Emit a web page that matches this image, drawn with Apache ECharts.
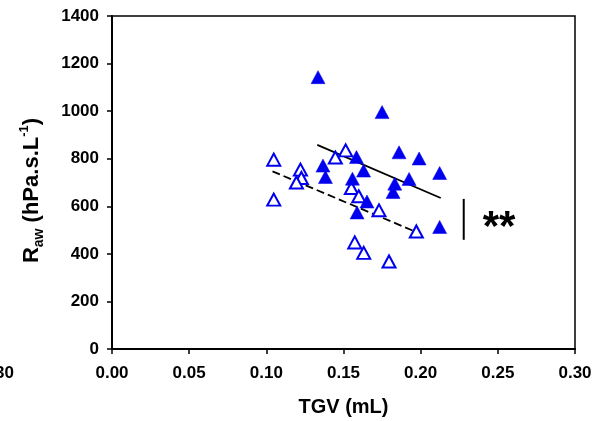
<!DOCTYPE html>
<html>
<head>
<meta charset="utf-8">
<script src="https://cdn.jsdelivr.net/npm/echarts@6/dist/echarts.min.js"></script>
<style>
html,body{margin:0;padding:0;background:#fff;}
#chart{width:595px;height:421px;}
</style>
</head>
<body>
<div id="chart"></div>
<script>
// ---- data ----
const filledX = [0.1335, 0.175, 0.186, 0.199, 0.2123, 0.1584, 0.163, 0.1367, 0.1383, 0.1558, 0.1832, 0.1925, 0.1821, 0.1652, 0.1588, 0.2123];
const filledY = [1143, 996, 827, 801, 740, 807, 750, 771, 723, 716, 695, 715, 660, 620, 574, 513];
const openX = [0.1048, 0.1048, 0.1221, 0.1227, 0.1195, 0.1447, 0.1514, 0.1551, 0.1599, 0.173, 0.1972, 0.1573, 0.1631, 0.1795];
const openY = [796, 628, 754, 719, 700, 805, 835, 677, 642, 583, 494, 448, 404, 368];
const solidFitX = [0.133, 0.213];
const solidFitY = [858, 635];
const dashedFitX = [0.104, 0.197];
const dashedFitY = [747, 492];
const sigBarX = [0.2279, 0.2279];
const sigBarY = [631, 459];
const sigText = '**';
const xTicks = {min: 0, max: 0.30, interval: 0.05};
const yTicks = {min: 0, max: 1400, interval: 200};
const xTitle = 'TGV (mL)';
const neighbourLabel = '0.30';

const zip = (xs, ys) => xs.map((x, i) => [x, ys[i]]);
const FONT = '"Liberation Sans", Arial, sans-serif';
const BLUE = '#0000ee';

const chart = echarts.init(document.getElementById('chart'), null, {renderer: 'canvas'});
const option = {
  animation: false,
  backgroundColor: '#fff',
  grid: {left: 112, right: 20, top: 16, bottom: 72, outerBoundsMode: 'none', containLabel: false,
    show: true, borderColor: '#000', borderWidth: 1.5, backgroundColor: 'transparent'},
  xAxis: {
    type: 'value', min: xTicks.min, max: xTicks.max, interval: xTicks.interval,
    name: xTitle, nameLocation: 'middle', nameGap: 48,
    nameTextStyle: {fontFamily: FONT, fontWeight: 'bold', fontSize: 20, color: '#000'},
    axisLine: {show: true, onZero: false, lineStyle: {color: '#000', width: 2}},
    axisTick: {show: true, length: 5, inside: false, lineStyle: {color: '#000', width: 1.5}},
    axisLabel: {margin: 16, fontFamily: FONT, fontWeight: 'bold', fontSize: 17, color: '#000',
      formatter: v => v.toFixed(2)},
    splitLine: {show: false}
  },
  yAxis: {
    type: 'value', min: yTicks.min, max: yTicks.max, interval: yTicks.interval,
    name: '{r|R}{sub|aw}{r| (hPa.s.L}{sup|-1}{r|)}', nameLocation: 'middle', nameGap: 66, nameRotate: 90,
    nameTextStyle: {
      fontFamily: FONT, fontWeight: 'bold', fontSize: 22, color: '#000', padding: [0, 16, 0, 0],
      rich: {
        r: {fontFamily: FONT, fontWeight: 'bold', fontSize: 22, color: '#000', lineHeight: 28, verticalAlign: 'middle'},
        sub: {fontFamily: FONT, fontWeight: 'bold', fontSize: 14, color: '#000', lineHeight: 14, verticalAlign: 'bottom'},
        sup: {fontFamily: FONT, fontWeight: 'bold', fontSize: 13, color: '#000', lineHeight: 13, verticalAlign: 'top'}
      }
    },
    axisLine: {show: true, onZero: false, lineStyle: {color: '#000', width: 2}},
    axisTick: {show: true, length: 5, inside: false, lineStyle: {color: '#000', width: 1.5}},
    axisLabel: {margin: 13, fontFamily: FONT, fontWeight: 'bold', fontSize: 17, color: '#000',
      formatter: v => String(v)},
    splitLine: {show: false}
  },
  series: [
    {
      type: 'line', data: zip(solidFitX, solidFitY), symbol: 'none', silent: true,
      lineStyle: {color: '#000', width: 1.8, type: 'solid'}, z: 2
    },
    {
      type: 'line', data: zip(dashedFitX, dashedFitY), symbol: 'none', silent: true,
      lineStyle: {color: '#000', width: 1.8, type: [8, 4]}, z: 2
    },
    {
      type: 'scatter', data: zip(openX, openY), symbol: 'triangle', symbolSize: [13, 12],
      itemStyle: {color: '#fff', borderColor: BLUE, borderWidth: 2, opacity: 1}, z: 3
    },
    {
      type: 'scatter', data: zip(filledX, filledY), symbol: 'triangle', symbolSize: [14, 13],
      itemStyle: {color: BLUE, borderColor: BLUE, borderWidth: 0.5, opacity: 1}, z: 4
    },
    {
      type: 'line', data: zip(sigBarX, sigBarY), symbol: 'none', silent: true,
      lineStyle: {color: '#000', width: 2}, z: 2
    }
  ]
};
chart.setOption(option);

// annotation text positioned through the chart's own scales
const mid = chart.convertToPixel({gridIndex: 0}, [sigBarX[0], (sigBarY[0] + sigBarY[1]) / 2]);
const leftEdge = chart.convertToPixel({gridIndex: 0}, [xTicks.min, yTicks.min]);
chart.setOption({
  graphic: [
    {
      type: 'text', left: mid[0] + 19, top: mid[1] - 12,
      style: {text: sigText, fontFamily: FONT, fontWeight: 'bold', fontSize: 42, fill: '#000'}
    },
    {
      type: 'text', x: 14, y: leftEdge[1] + 16,
      style: {text: neighbourLabel, align: 'right', verticalAlign: 'top', fontFamily: FONT, fontWeight: 'bold', fontSize: 17, fill: '#000'}
    }
  ]
});
</script>
</body>
</html>
